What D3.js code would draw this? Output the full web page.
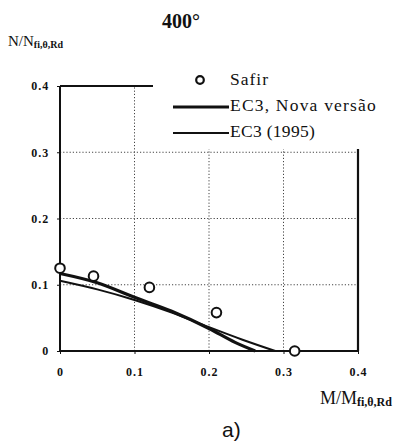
<!DOCTYPE html>
<html><head><meta charset="utf-8">
<script src="https://cdn.jsdelivr.net/npm/d3@7"></script>
<style>body{margin:0;background:#fff} svg text{font-family:"Liberation Serif","DejaVu Serif","Times New Roman",serif}</style>
</head><body>
<script>
const xTicks = [0, 0.1, 0.2, 0.3, 0.4];
const yTicks = [0, 0.1, 0.2, 0.3, 0.4];
const safirM = [0, 0.045, 0.12, 0.21, 0.315];
const safirN = [0.125, 0.113, 0.096, 0.058, 0];
const novaM = [0, 0.05, 0.1, 0.15, 0.2, 0.235, 0.262];
const novaN = [0.117, 0.103, 0.081, 0.06, 0.034, 0.013, 0];
const oldM = [0, 0.05, 0.1, 0.15, 0.2, 0.245, 0.289];
const oldN = [0.106, 0.093, 0.077, 0.058, 0.036, 0.017, 0];
const legendLabels = ["Safir", "EC3, Nova versão", "EC3 (1995)"];

const W = 403, H = 448;
const svg = d3.select("body").append("svg").attr("width", W).attr("height", H);
const x = d3.scaleLinear().domain([0, 0.4]).range([60, 358]);
const y = d3.scaleLinear().domain([0, 0.4]).range([351, 86]);

// grid
const grid = svg.append("g").attr("stroke", "#444").attr("stroke-width", 1).attr("stroke-dasharray", "1.2,2");
xTicks.filter(d => d > 0 && d < 0.4).forEach(d => {
  grid.append("line").attr("x1", x(d)).attr("x2", x(d)).attr("y1", y(0)).attr("y2", y(0.4));
});
yTicks.filter(d => d > 0 && d < 0.4).forEach(d => {
  grid.append("line").attr("x1", x(0)).attr("x2", x(0.4)).attr("y1", y(d)).attr("y2", y(d));
});

// lines
const line = d3.line().x(d => x(d[0])).y(d => y(d[1])).curve(d3.curveMonotoneX);
svg.append("path").datum(oldM.map((m, i) => [m, oldN[i]])).attr("d", line)
  .attr("fill", "none").attr("stroke", "#111").attr("stroke-width", 2);
svg.append("path").datum(novaM.map((m, i) => [m, novaN[i]])).attr("d", line)
  .attr("fill", "none").attr("stroke", "#111").attr("stroke-width", 3.2);

// frame
svg.append("line").attr("x1", x(0)).attr("x2", x(0.4)).attr("y1", y(0)).attr("y2", y(0)).attr("stroke", "#111").attr("stroke-width", 2);
svg.append("line").attr("x1", x(0)).attr("x2", x(0)).attr("y1", y(0)).attr("y2", y(0.4)).attr("stroke", "#111").attr("stroke-width", 2);
svg.append("line").attr("x1", x(0.4)).attr("x2", x(0.4)).attr("y1", y(0)).attr("y2", y(0.4)).attr("stroke", "#111").attr("stroke-width", 2.2);
svg.append("line").attr("x1", x(0)).attr("x2", x(0.4)).attr("y1", y(0.4)).attr("y2", y(0.4)).attr("stroke", "#111").attr("stroke-width", 2);

// axes
const fmt = d => d === 0 ? "0" : d3.format(".1f")(d);
const xa = svg.append("g").attr("transform", `translate(0,${y(0)})`)
  .call(d3.axisBottom(x).tickValues(xTicks).tickSize(3).tickFormat(fmt));
const ya = svg.append("g").attr("transform", `translate(${x(0)},0)`)
  .call(d3.axisLeft(y).tickValues(yTicks).tickSize(3).tickFormat(fmt));
[xa, ya].forEach(a => {
  a.select(".domain").remove();
  a.selectAll("text").attr("font-family", null).attr("font-weight", "bold").attr("font-size", 12)
    .attr("letter-spacing", 1).attr("fill", "#111");
  a.selectAll("line").attr("stroke", "#111");
});
xa.selectAll("text").attr("dy", "1.6em");
ya.selectAll("text").attr("dx", "-0.4em");

// Safir points
svg.append("g").selectAll("circle").data(safirM.map((m, i) => [m, safirN[i]])).join("circle")
  .attr("cx", d => x(d[0])).attr("cy", d => y(d[1])).attr("r", 4.8)
  .attr("fill", "#fff").attr("stroke", "#111").attr("stroke-width", 2);

// legend box (covers top-right of frame)
svg.append("rect").attr("x", 153).attr("y", 66).attr("width", 250).attr("height", 83).attr("fill", "#fff");
svg.append("circle").attr("cx", 200).attr("cy", 80).attr("r", 3.8).attr("fill", "#fff").attr("stroke", "#111").attr("stroke-width", 2.2);
svg.append("line").attr("x1", 173).attr("x2", 229).attr("y1", 107).attr("y2", 107).attr("stroke", "#111").attr("stroke-width", 3.2);
svg.append("line").attr("x1", 173).attr("x2", 229).attr("y1", 133).attr("y2", 133).attr("stroke", "#111").attr("stroke-width", 2);
const lg = svg.append("g").attr("font-size", 17.5).attr("fill", "#111");
const ls = [1, 1.2, 0.3];
[85, 111, 137].forEach((by, i) => {
  lg.append("text").attr("x", 230).attr("y", by).attr("letter-spacing", ls[i]).text(legendLabels[i]);
});

// title
svg.append("text").attr("x", 162).attr("y", 28)
  .attr("font-weight", "bold").attr("font-size", 20).attr("fill", "#111").text("400°");

// axis labels
const yl = svg.append("text").attr("x", 8).attr("y", 46).attr("font-size", 15).attr("fill", "#111");
yl.append("tspan").text("N/N");
yl.append("tspan").attr("font-size", 10).attr("dy", 2).attr("font-weight", "bold").text("fi,θ,Rd");
const xl = svg.append("text").attr("x", 320).attr("y", 404).attr("font-size", 18).attr("fill", "#111");
xl.append("tspan").text("M/M");
xl.append("tspan").attr("font-size", 12).attr("dy", 2).attr("font-weight", "bold").text("fi,θ,Rd");

svg.append("text").attr("x", 222).attr("y", 437).style("font-family", "'Liberation Sans', Arial, sans-serif")
  .attr("font-size", 21).attr("fill", "#111").text("a)");
</script>
</body></html>
